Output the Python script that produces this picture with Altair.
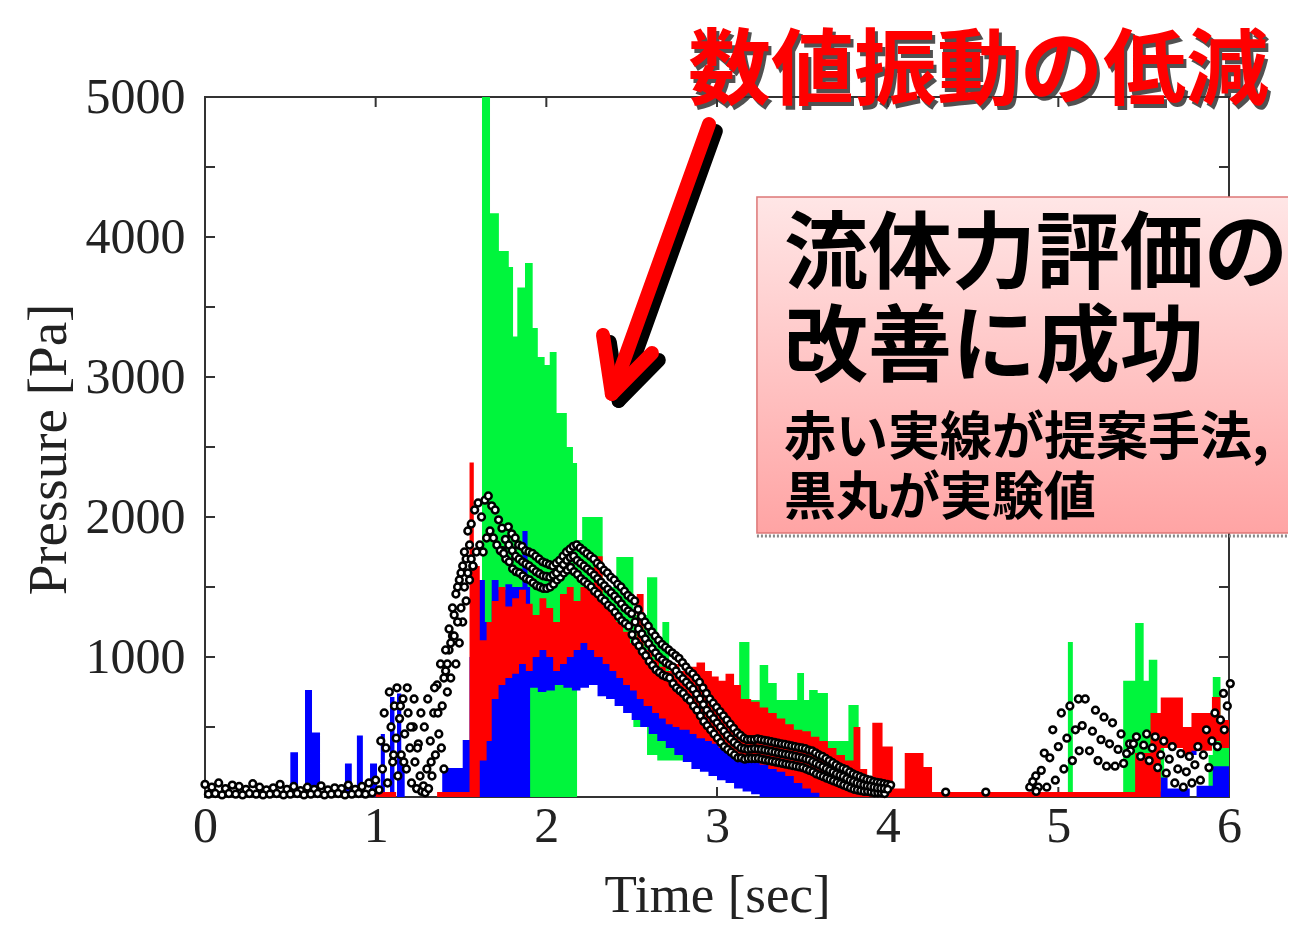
import altair as alt
import pandas as pd

# ---------------- axis values ----------------
x_tick_vals = [0, 1, 2, 3, 4, 5, 6]
x_inner_ticks = [1, 2, 3, 4, 5]
y_label_vals = [1000, 2000, 3000, 4000, 5000]
y_minor_ticks = [500, 1000, 1500, 2000, 2500, 3000, 3500, 4000, 4500]

# ---------------- green series (step start time, lower, upper) ----------------
green_t = [1.623, 1.67, 1.722, 1.78, 1.805, 1.83, 1.875, 1.92, 1.95, 1.99,
           2.02, 2.06, 2.12, 2.156, 2.18, 2.21, 2.33, 2.41, 2.51, 2.59,
           2.65, 2.68, 2.72, 2.80, 2.90, 3.00, 3.13, 3.19, 3.25, 3.30,
           3.35, 3.47, 3.51, 3.54, 3.59, 3.65, 3.77, 3.83, 5.056, 5.085,
           5.38, 5.45, 5.50, 5.53, 5.58, 5.62, 5.88, 5.905, 5.95, 6.00]
green_lo = [0, 0, 0, 0, 0, 0, 0, 0, 0, 0,
            0, 0, 0, 0, 900, 900, 800, 700, 500, 300,
            260, 260, 260, 250, 250, 200, 200, 180, 150, 150,
            200, 250, 250, 250, 250, 150, 150, 0, 0, 0,
            0, 0, 0, 0, 0, 0, 0, 0, 0, 0]
green_hi = [5000, 4170, 3900, 3786, 3290, 3640, 3814, 3350, 3143, 3085,
            3178, 2743, 2500, 2386, 1835, 2000, 1500, 1714, 1300, 1570,
            1140, 1250, 700, 800, 650, 700, 1107, 693, 943, 814,
            693, 886, 693, 764, 743, 400, 657, 0, 1107, 0,
            830, 1243, 830, 980, 600, 0, 300, 857, 400, 0]

# ---------------- blue series ----------------
blue_t = [0.50, 0.545, 0.586, 0.627, 0.674, 0.82, 0.86, 0.89, 0.925, 0.967,
          1.008, 1.03, 1.054, 1.084, 1.11, 1.125, 1.15, 1.17, 1.39, 1.51,
          1.55, 1.60, 1.64, 1.68, 1.72, 1.76, 1.80, 1.86, 1.89, 1.905,
          1.95, 2.00, 2.05, 2.10, 2.15, 2.20, 2.25, 2.30, 2.35, 2.40,
          2.45, 2.50, 2.55, 2.60, 2.65, 2.70, 2.75, 2.80, 2.85, 2.90,
          2.95, 3.00, 3.05, 3.10, 3.15, 3.20, 3.25, 3.30, 3.35, 3.40,
          3.45, 3.50, 3.55, 3.60, 3.65, 3.70, 3.75, 5.45, 5.60, 5.64,
          5.77, 5.81, 5.905, 6.00]
blue_lo = [0, 0, 0, 0, 0, 0, 0, 0, 0, 0,
           0, 0, 0, 0, 0, 0, 0, 0, 0, 0,
           0, 0, 0, 0, 0, 0, 0, 0, 0, 780,
           750, 760, 800, 780, 760, 780, 800, 720, 700, 650,
           600, 550, 500, 450, 400, 350, 300, 250, 200, 180,
           150, 120, 100, 60, 40, 20, 0, 0, 0, 0,
           0, 0, 0, 0, 0, 0, 0, 0, 0, 0,
           300, 0, 0, 0]
blue_hi = [320, 0, 764, 460, 0, 240, 0, 440, 0, 240,
           0, 450, 0, 714, 0, 740, 300, 0, 207, 407,
           1000, 1550, 1250, 1550, 1480, 1520, 1500, 1900, 1500, 1150,
           1100, 1200, 1250, 1150, 1214, 1300, 1214, 1100, 1050, 1080,
           950, 900, 920, 880, 800, 780, 700, 650, 620, 560,
           460, 420, 380, 340, 360, 320, 300, 280, 260, 240,
           220, 200, 180, 150, 100, 60, 0, 40, 140, 60,
           450, 80, 220, 0]

# ---------------- red series (proposed method) ----------------
red_t = [1.00, 1.12, 1.36, 1.55, 1.575, 1.61, 1.65, 1.68, 1.72, 1.76,
         1.80, 1.84, 1.88, 1.92, 1.96, 2.00, 2.04, 2.08, 2.12, 2.16,
         2.20, 2.24, 2.28, 2.33, 2.37, 2.41, 2.45, 2.49, 2.53, 2.57,
         2.62, 2.66, 2.70, 2.74, 2.78, 2.84, 2.88, 2.93, 2.97, 3.01,
         3.05, 3.10, 3.14, 3.20, 3.25, 3.30, 3.35, 3.40, 3.45, 3.50,
         3.55, 3.60, 3.65, 3.70, 3.75, 3.80, 3.84, 3.88, 3.91, 3.97,
         4.03, 4.10, 4.21, 4.26, 5.45, 5.54, 5.60, 5.73, 5.78, 5.90,
         5.95, 6.00]
red_lo = [0, 0, 0, 0, 0, 260, 400, 700, 800, 850,
          880, 950, 900, 1000, 1050, 1000, 900, 950, 1000, 1050,
          1100, 1050, 1000, 950, 900, 850, 800, 760, 700, 650,
          600, 560, 520, 500, 480, 450, 420, 400, 380, 350,
          320, 300, 280, 250, 230, 200, 180, 150, 100, 60,
          30, 0, 0, 0, 0, 0, 0, 0, 0, 0,
          0, 0, 0, 0, 0, 0, 350, 300, 330, 400,
          350, 0]
red_hi = [35, 0, 35, 2390, 1650, 1120, 1250, 1400, 1500, 1360,
          1420, 1480, 1380, 1300, 1420, 1350, 1250, 1450, 1500, 1400,
          1500, 1520, 1720, 1400, 1350, 1250, 1180, 1100, 1450, 1050,
          980, 930, 900, 950, 900, 930, 960, 900, 860, 830,
          880, 800, 700, 680, 640, 600, 560, 520, 480, 470,
          430, 400, 350, 300, 260, 500, 200, 120, 530, 360,
          60, 314, 214, 35, 314, 600, 710, 500, 600, 714,
          550, 0]

# ---------------- experimental points (black circles) ----------------
exp_t = [0.00, 0.04, 0.08, 0.12, 0.16, 0.20, 0.24, 0.28, 0.32, 0.36,
         0.40, 0.44, 0.48, 0.52, 0.56, 0.60, 0.64, 0.68, 0.72, 0.76,
         0.80, 0.84, 0.88, 0.92, 0.96,
         0.02, 0.06, 0.10, 0.14, 0.18, 0.22, 0.26, 0.30, 0.34, 0.38,
         0.42, 0.46, 0.50, 0.54, 0.58, 0.62, 0.66, 0.70, 0.74, 0.78,
         0.82, 0.86, 0.90, 0.94, 0.98,
         1.00, 1.02, 1.04, 1.06, 1.07, 1.09, 1.10, 1.11, 1.12, 1.13,
         1.14, 1.15, 1.16, 1.17, 1.18, 1.19, 1.20, 1.21, 1.22, 1.23,
         1.24, 1.25, 1.26, 1.27,
         1.28, 1.29, 1.30, 1.31, 1.32, 1.33, 1.34, 1.35, 1.36, 1.37,
         1.38, 1.39, 1.40, 1.41, 1.42, 1.43, 1.44, 1.45,
         1.46, 1.47, 1.48, 1.49, 1.50, 1.51, 1.52, 1.53, 1.54, 1.55,
         1.56, 1.57, 1.58, 1.59, 1.60, 1.61, 1.62, 1.63, 1.64, 1.65,
         1.66, 1.67, 1.68, 1.69, 1.70, 1.71, 1.72, 1.73, 1.74, 1.75,
         1.03, 1.05, 1.08, 1.105, 1.125, 1.145, 1.165, 1.185, 1.205, 1.225,
         1.245, 1.265, 1.285, 1.305, 1.325, 1.345, 1.365, 1.385, 1.40, 1.41,
         1.42, 1.43, 1.44, 1.45, 1.46, 1.47, 1.48, 1.49, 1.50, 1.51,
         1.52, 1.53, 1.54, 1.55, 1.56, 1.57,
         4.34, 4.575, 4.87]
exp_p = [90, 70, 100, 60, 85, 75, 55, 95, 70, 50,
         65, 90, 55, 75, 45, 70, 55, 80, 50, 65,
         60, 85, 55, 75, 100,
         20, 25, 15, 25, 20, 15, 25, 20, 15, 20,
         25, 15, 20, 25, 15, 20, 25, 15, 20, 25,
         15, 20, 25, 20, 30,
         120, 50, 200, 350, 100, 500, 250, 650, 420, 150,
         560, 300, 700, 450, 200, 600, 350, 100, 500, 250,
         60, 380, 150, 40,
         80, 30, 200, 60, 400, 150, 600, 300, 800, 450,
         950, 650, 200, 900, 750, 1050, 850, 1150,
         1300, 950, 1500, 1100, 1600, 1250, 1750, 1400, 1900, 1550,
         1950, 1650, 2050, 1750, 2100, 1800, 2000, 1750, 2120, 1850,
         2150, 1900, 2080, 1850, 2050, 1800, 1980, 1760, 1920, 1740,
         400, 600, 750, 300, 780, 650, 250, 780, 500, 700,
         350, 600, 500, 700, 250, 780, 600, 350, 850, 1050,
         950, 1200, 1100, 1350, 1150, 1450, 1250, 1550, 1350, 1650,
         1500, 1700, 1600, 1800, 1700, 1650,
         35, 35, 40]

band_mid = [1840, 1800, 1760, 1720, 1700, 1680, 1665, 1650, 1630, 1610,
            1595, 1580, 1575, 1570, 1585, 1600, 1630, 1660, 1690, 1710,
            1720, 1690, 1670, 1650, 1630, 1610, 1585, 1560, 1535, 1510,
            1485, 1460, 1435, 1410, 1380, 1350, 1330, 1310, 1250, 1200,
            1165, 1130, 1095, 1060, 1030, 1000, 980, 960, 945, 930,
            900, 870, 845, 820, 795, 770, 735, 700, 660, 620,
            590, 560, 530, 500, 470, 440, 415, 390, 370, 350,
            345, 340, 342, 345, 342, 340, 335, 330, 325, 320,
            315, 310, 305, 300, 295, 290, 285, 280, 272, 265,
            252, 240, 228, 215, 202, 190, 178, 165, 155, 145,
            132, 120, 110, 100, 92, 85, 80, 75, 70, 65,
            62, 60, 55]
band_hi = [1930, 1880, 1850, 1800, 1790, 1760, 1750, 1740, 1720, 1700,
           1680, 1670, 1660, 1650, 1670, 1690, 1720, 1750, 1770, 1790,
           1800, 1780, 1760, 1740, 1720, 1700, 1670, 1650, 1620, 1600,
           1570, 1550, 1520, 1500, 1470, 1440, 1420, 1400, 1340, 1290,
           1250, 1220, 1180, 1150, 1120, 1090, 1070, 1050, 1030, 1010,
           990, 960, 930, 900, 880, 850, 820, 780, 740, 700,
           670, 640, 610, 580, 550, 520, 490, 460, 440, 420,
           410, 410, 410, 415, 410, 405, 400, 395, 390, 385,
           380, 375, 370, 365, 360, 355, 350, 345, 335, 330,
           315, 300, 290, 275, 260, 245, 230, 215, 205, 195,
           180, 165, 155, 145, 135, 125, 120, 110, 105, 100,
           95, 90, 85]
band_lo = [1760, 1700, 1680, 1630, 1610, 1600, 1580, 1560, 1550, 1530,
           1510, 1500, 1490, 1490, 1500, 1520, 1550, 1570, 1600, 1620,
           1640, 1610, 1590, 1560, 1540, 1520, 1500, 1470, 1450, 1420,
           1400, 1370, 1350, 1320, 1290, 1260, 1240, 1220, 1160, 1110,
           1080, 1040, 1010, 970, 940, 910, 890, 870, 860, 850,
           810, 780, 760, 740, 710, 690, 650, 620, 580, 540,
           510, 480, 450, 420, 390, 360, 340, 320, 300, 280,
           280, 270, 275, 275, 275, 275, 270, 265, 260, 255,
           250, 245, 240, 235, 230, 225, 220, 215, 210, 200,
           190, 180, 165, 155, 145, 135, 125, 115, 105, 95,
           85, 75, 65, 55, 50, 45, 40, 40, 35, 30,
           30, 30, 25]
band_t = [round(1.76 + 0.02 * i, 2) for i in range(len(band_mid))]

cloud_t = [4.85, 4.90, 4.95, 5.00, 5.05, 5.10, 5.14, 5.20, 5.25, 5.30,
           5.35, 5.40, 5.44, 5.50, 5.55, 5.60, 5.65, 5.70, 5.75, 5.80,
           5.85, 5.90, 5.95, 5.99]
cloud_top = [150, 314, 480, 600, 650, 700, 700, 620, 570, 530,
             450, 380, 430, 450, 430, 400, 360, 310, 290, 360,
             480, 600, 740, 810]
cloud_mid = [110, 190, 280, 360, 420, 480, 510, 470, 410, 380,
             340, 310, 380, 370, 350, 300, 270, 200, 180, 230,
             300, 400, 550, 650]
cloud_bot = [70, 70, 70, 120, 200, 260, 330, 330, 260, 220,
             220, 240, 330, 290, 260, 210, 170, 100, 70, 100,
             120, 210, 360, 480]

# ---------------- annotations ----------------
title_text = ["数値振動の低減"]
title_pos = [(2.83, 5175)]
box_lines = ["流体力評価の", "改善に成功", "赤い実線が提案手法,", "黒丸が実験値"]
box_line_t = [3.392, 3.392, 3.392, 3.392]
box_line_p = [3857, 3193, 2557, 2129]
box_line_size = [84, 84, 52, 52]
box_corners = (3.234, 6.44, 4286, 1886)
arrow_seg = ["shaft", "shaft", "head", "head", "head"]
arrow_order = [0, 1, 0, 1, 2]
arrow_t = [2.953, 2.384, 2.332, 2.384, 2.619]
arrow_p = [4807, 2879, 3300, 2879, 3171]

# ---------------- frames ----------------
def step_frame(t, lo, hi):
    return pd.DataFrame({"t": t, "p": hi, "lo": lo})

green_df = step_frame(green_t, green_lo, green_hi)
blue_df = step_frame(blue_t, blue_lo, blue_hi)
red_df = step_frame(red_t, red_lo, red_hi)
exp_df = pd.concat([
    pd.DataFrame({"t": exp_t, "p": exp_p}),
    pd.DataFrame({"t": band_t, "p": band_mid}),
    pd.DataFrame({"t": cloud_t, "p": cloud_mid}),
])
exp_hi_df = pd.concat([pd.DataFrame({"t": band_t, "p": band_hi}),
                       pd.DataFrame({"t": cloud_t, "p": cloud_top})])
exp_lo_df = pd.concat([pd.DataFrame({"t": band_t, "p": band_lo}),
                       pd.DataFrame({"t": cloud_t, "p": cloud_bot})])

SERIF = "Liberation Serif"
CJK = "Noto Sans CJK JP"

X = alt.X("t:Q", scale=alt.Scale(domain=[0, 6], nice=False, zero=False),
          axis=alt.Axis(values=x_tick_vals, format="d", title="Time [sec]",
                        labelFont=SERIF, labelFontSize=50, labelColor="#222",
                        labelPadding=4, ticks=False, domain=False, grid=False,
                        labelFlush=False,
                        titleFont=SERIF, titleFontSize=53, titleFontWeight="normal",
                        titleColor="#222", titleX=512, titleY=98,
                        titleBaseline="middle", titleAlign="center"))
Y = alt.Y("p:Q", scale=alt.Scale(domain=[0, 5000], nice=False),
          axis=alt.Axis(values=y_label_vals, format="d", title="Pressure [Pa]",
                        labelFont=SERIF, labelFontSize=50, labelColor="#222",
                        labelPadding=20, ticks=False, domain=False, grid=False,
                        labelFlush=False,
                        titleFont=SERIF, titleFontSize=55, titleFontWeight="normal",
                        titleColor="#222", titleX=-157, titleY=352, titleAngle=270,
                        titleBaseline="middle", titleAlign="center"))

W, H = 1024, 700
tick_style = dict(color="#333", strokeWidth=2)
yt = pd.DataFrame({"p": y_minor_ticks})
xt = pd.DataFrame({"t": x_inner_ticks})
ticks = [
    alt.Chart(yt).mark_rule(**tick_style).encode(y=Y, x=alt.value(0), x2=alt.value(10)),
    alt.Chart(yt).mark_rule(**tick_style).encode(y=Y, x=alt.value(W - 10), x2=alt.value(W)),
    alt.Chart(xt).mark_rule(**tick_style).encode(x=X, y=alt.value(H), y2=alt.value(H - 10)),
    alt.Chart(xt).mark_rule(**tick_style).encode(x=X, y=alt.value(0), y2=alt.value(10)),
]

def area(df, color):
    return alt.Chart(df).mark_area(interpolate="step-after", color=color, opacity=1).encode(
        x=X, y=Y, y2=alt.Y2("lo:Q"))

green_layer = area(green_df, "#00F53C")
blue_layer = area(blue_df, "#0000FF")
red_layer = area(red_df, "#FF0000")

circ = dict(size=46, fill="white", stroke="black", strokeWidth=2.5, opacity=1, fillOpacity=1)
exp_layers = [
    alt.Chart(exp_lo_df).mark_circle(xOffset=-3, **circ).encode(x=X, y=Y),
    alt.Chart(exp_hi_df).mark_circle(xOffset=3, **circ).encode(x=X, y=Y),
    alt.Chart(exp_df).mark_circle(**circ).encode(x=X, y=Y),
]

# box
bx = pd.DataFrame({"t": [box_corners[0]], "t2": [box_corners[1]],
                   "p": [box_corners[2]], "p2": [box_corners[3]]})
grad = alt.Gradient(gradient="linear",
                    stops=[alt.GradientStop(color="#FFE6E6", offset=0),
                           alt.GradientStop(color="#FFA4A4", offset=1)],
                    x1=0, x2=0, y1=0, y2=1)
box = alt.Chart(bx).mark_rect(fill=grad, stroke="#DD7777", strokeWidth=1.5).encode(
    x=X, x2=alt.X2("t2:Q"), y=Y, y2=alt.Y2("p2:Q"))
dots = alt.Chart(bx).mark_rule(color="#888", strokeWidth=3, strokeDash=[2, 2]).encode(
    x=X, x2=alt.X2("t2:Q"), y=alt.Y("p2:Q", scale=alt.Scale(domain=[0, 5000], nice=False)),
    yOffset=alt.value(3))

box_df = pd.DataFrame({"t": box_line_t, "p": box_line_p, "label": box_lines, "fs": box_line_size})
box_texts = []
for fs in sorted(set(box_line_size)):
    box_texts.append(
        alt.Chart(box_df[box_df.fs == fs]).mark_text(
            align="left", baseline="middle", font=CJK, fontSize=fs,
            fontWeight="bold", color="#000").encode(x=X, y=Y, text="label:N"))

# arrow
arr = pd.DataFrame({"seg": arrow_seg, "o": arrow_order, "t": arrow_t, "p": arrow_p})
arr_sh = arr.copy()
arr_sh["t"] = arr_sh["t"] + 0.04
arr_sh["p"] = arr_sh["p"] - 50
arrow_shadow = alt.Chart(arr_sh).mark_line(color="#000", strokeWidth=14, strokeCap="round",
                                           strokeJoin="round").encode(
    x=X, y=Y, detail="seg:N", order="o:Q")
arrow = alt.Chart(arr).mark_line(color="#FF0000", strokeWidth=14, strokeCap="round",
                                 strokeJoin="round").encode(
    x=X, y=Y, detail="seg:N", order="o:Q")

# title
tdf = pd.DataFrame({"t": [title_pos[0][0]], "p": [title_pos[0][1]], "label": title_text})
title_shadow = alt.Chart(tdf).mark_text(align="left", baseline="middle", font=CJK, fontSize=83,
                                        fontWeight="bold", color="#333", dx=3, dy=4,
                                        opacity=0.85).encode(x=X, y=Y, text="label:N")
title = alt.Chart(tdf).mark_text(align="left", baseline="middle", font=CJK, fontSize=83,
                                 fontWeight="bold", color="#FF0000").encode(x=X, y=Y, text="label:N")

chart = alt.layer(
    *ticks, green_layer, blue_layer, red_layer, *exp_layers,
    box, dots, *box_texts, arrow_shadow, arrow, title_shadow, title
).properties(
    width=W, height=H,
    padding={"left": 197, "top": 89, "right": 59, "bottom": 126},
    autosize=alt.AutoSizeParams(type="none"),
    background="white",
).configure_view(stroke="#333", strokeWidth=2)

chart.save("out.html", embed_options={"renderer": "svg", "actions": False})
